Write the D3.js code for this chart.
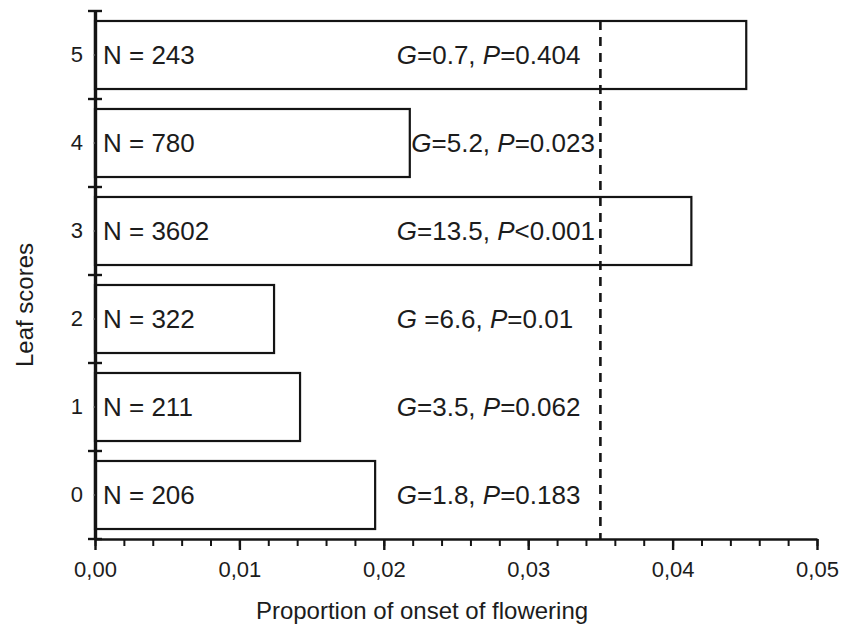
<!DOCTYPE html>
<html><head><meta charset="utf-8">
<script src="https://cdn.jsdelivr.net/npm/d3@7"></script>
<style>
body{margin:0;background:#fff}
text{font-family:"Liberation Sans",Arial,Helvetica,sans-serif;fill:#1c1c1c}
</style>
</head><body>
<svg id="c" width="847" height="627"></svg>
<script>
const categories = ["5","4","3","2","1","0"];
const proportions = [0.0451, 0.0218, 0.0413, 0.0124, 0.0142, 0.0194];
const sampleSizes = [243, 780, 3602, 322, 211, 206];
const gValues = ["=0.7", "=5.2", "=13.5", " =6.6", "=3.5", "=1.8"];
const pValues = ["=0.404", "=0.023", "<0.001", "=0.01", "=0.062", "=0.183"];
const xTicks = [0, 0.01, 0.02, 0.03, 0.04, 0.05];
const referenceLine = 0.035;
const xTitle = "Proportion of onset of flowering";
const yTitle = "Leaf scores";

const svg = d3.select("#c");
const x = d3.scaleLinear([0, 0.05], [95, 817]);
const y = d3.scaleBand(categories, [11, 539]).paddingInner(0.227).paddingOuter(0.1135);
const step = y.step();
const ink = "#141414";

const rows = categories.map((c, i) => ({c, v: proportions[i], n: sampleSizes[i], g: gValues[i], p: pValues[i]}));

// bars
svg.append("g").selectAll("rect").data(rows).join("rect")
  .attr("x", x(0)).attr("y", d => y(d.c))
  .attr("width", d => x(d.v) - x(0)).attr("height", y.bandwidth())
  .attr("fill", "#fff").attr("stroke", ink).attr("stroke-width", 2.2);

// reference dashed line
svg.append("line")
  .attr("x1", x(referenceLine)).attr("x2", x(referenceLine))
  .attr("y1", y(categories[0])).attr("y2", y.range()[1])
  .attr("stroke", ink).attr("stroke-width", 2.6).attr("stroke-dasharray", "9,7");

// x axis minor ticks
const xg = svg.append("g").attr("transform", `translate(0,${y.range()[1]})`);
xg.append("g").call(d3.axisBottom(x).ticks(25).tickSize(7).tickSizeOuter(0).tickFormat(""))
  .call(g => g.selectAll("line").attr("stroke", ink).attr("stroke-width", 2))
  .call(g => g.select(".domain").attr("stroke", ink).attr("stroke-width", 2.6));
xg.append("g").call(d3.axisBottom(x).tickValues(xTicks).tickSize(11).tickSizeOuter(0).tickPadding(11)
    .tickFormat(d => d3.format(".2f")(d).replace(".", ",")))
  .call(g => g.select(".domain").remove())
  .call(g => g.selectAll("line").attr("stroke", ink).attr("stroke-width", 2.4))
  .call(g => g.selectAll("text").attr("font-size", 22).attr("fill", "#1c1c1c")
    .attr("font-family", "Liberation Sans, Arial, sans-serif"));

// y axis
const yg = svg.append("g").attr("transform", `translate(${x(0)},0)`);
yg.call(d3.axisLeft(y).tickSize(2).tickSizeOuter(0).tickPadding(10))
  .call(g => g.select(".domain").attr("stroke", ink).attr("stroke-width", 3.4))
  .call(g => g.selectAll(".tick line").attr("stroke", "#888").attr("stroke-width", 1))
  .call(g => g.selectAll("text").attr("font-size", 22).attr("fill", "#1c1c1c")
    .attr("font-family", "Liberation Sans, Arial, sans-serif"));
const bounds = [y.range()[0]].concat(categories.map(c => y(c) + y.bandwidth() + (step - y.bandwidth()) / 2));
yg.selectAll("line.bound").data(bounds).join("line").attr("class", "bound")
  .attr("x1", -7).attr("x2", 7).attr("y1", d => d).attr("y2", d => d)
  .attr("stroke", ink).attr("stroke-width", 2.4);

// N labels
svg.append("g").selectAll("text").data(rows).join("text")
  .attr("x", x(0) + 8).attr("y", d => y(d.c) + y.bandwidth() / 2)
  .attr("dy", "0.35em").attr("font-size", 26)
  .text(d => "N = " + d.n);

// G / P labels: fixed column, nudged right only when a bar edge would cut through the text start
const col = x(0.0209);
const gl = svg.append("g").selectAll("text").data(rows).join("text")
  .attr("x", d => (x(d.v) > col && x(d.v) < col + 40) ? x(d.v) + 1.5 : col)
  .attr("y", d => y(d.c) + y.bandwidth() / 2)
  .attr("dy", "0.35em").attr("font-size", 26);
gl.append("tspan").attr("font-style", "italic").text("G");
gl.append("tspan").text(d => d.g + ", ");
gl.append("tspan").attr("font-style", "italic").text("P");
gl.append("tspan").text(d => d.p);

// titles
svg.append("text").attr("x", 422).attr("y", 619).attr("text-anchor", "middle")
  .attr("font-size", 24).text(xTitle);
svg.append("text").attr("transform", "translate(33,305) rotate(-90)").attr("text-anchor", "middle")
  .attr("font-size", 24).text(yTitle);
</script>
</body></html>
